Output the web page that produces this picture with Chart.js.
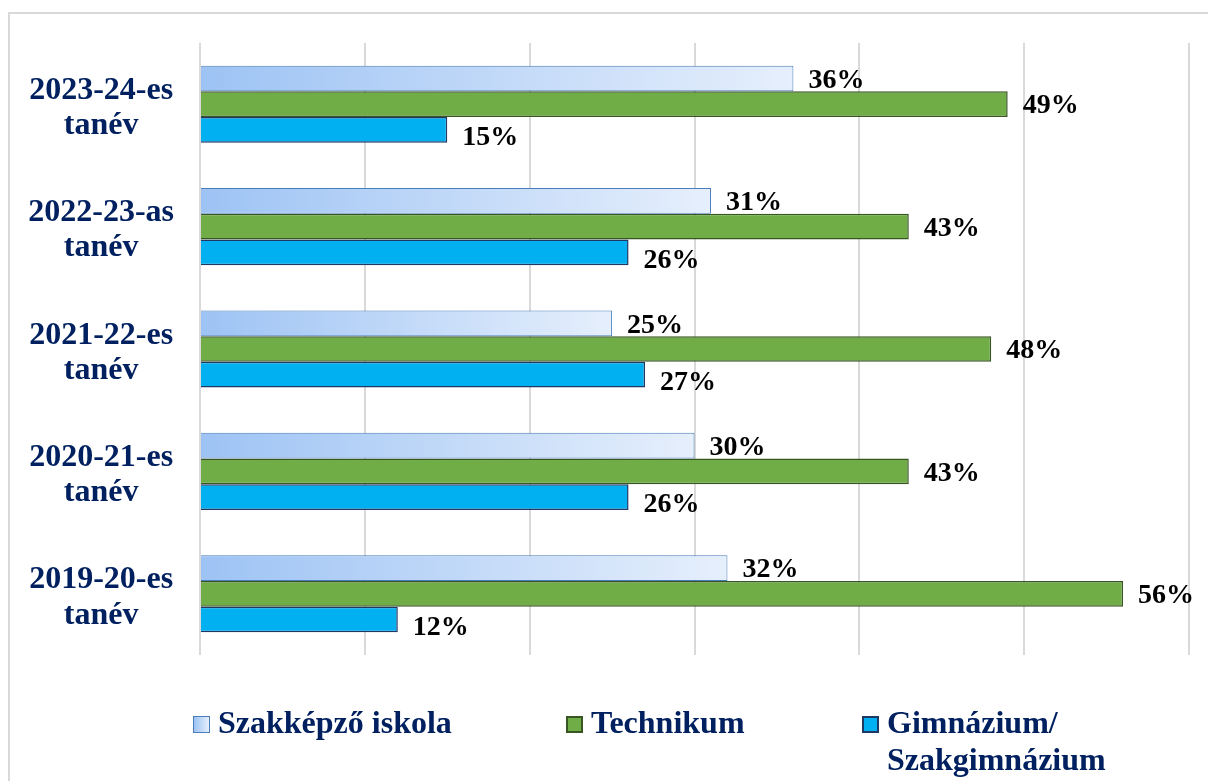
<!DOCTYPE html>
<html lang="hu">
<head>
<meta charset="utf-8">
<script src="https://cdn.jsdelivr.net/npm/chart.js@4.4.1/dist/chart.umd.min.js"></script>
<style>
  html, body { margin: 0; padding: 0; background: #fff; overflow: hidden; }
  #wrap { position: relative; width: 1208px; height: 781px; }
  #frame { position: absolute; left: 8px; top: 12px; width: 1220px; height: 800px; border: 2px solid #d9d9d9; box-sizing: border-box; }
  #chart { position: absolute; left: 0; top: 0; }
  .leg { position: absolute; font: bold 32px "Liberation Serif", "Times New Roman", serif; color: #002060; line-height: 37px; white-space: nowrap; }
  .box { position: absolute; width: 17px; height: 17px; box-sizing: border-box; }
</style>
</head>
<body>
<div id="wrap">
  <div id="frame"></div>
  <canvas id="chart" width="1208" height="781"></canvas>
  <div class="box" style="left:193px;top:716px;border:1.5px solid #4a7ebb;background:linear-gradient(90deg,#9dc3f4,#e6effc);"></div>
  <div class="leg" style="left:218px;top:704px;">Szakképző iskola</div>
  <div class="box" style="left:566px;top:716px;border:2px solid #375623;background:#70ad47;"></div>
  <div class="leg" style="left:591px;top:704px;">Technikum</div>
  <div class="box" style="left:862px;top:716px;border:2px solid #1f3864;background:#00b0f0;"></div>
  <div class="leg" style="left:887px;top:704px;">Gimnázium/<br>Szakgimnázium</div>
</div>
<script>
// Adatok
const categories = [
  ['2023-24-es', 'tanév'],
  ['2022-23-as', 'tanév'],
  ['2021-22-es', 'tanév'],
  ['2020-21-es', 'tanév'],
  ['2019-20-es', 'tanév']
];
const seriesNames = ['Szakképző iskola', 'Technikum', 'Gimnázium/ Szakgimnázium'];
const szakkepzo = [36, 31, 25, 30, 32];
const technikum = [49, 43, 48, 43, 56];
const gimnazium = [15, 26, 27, 26, 12];
const xTicks = [0, 10, 20, 30, 40, 50, 60];

// dégradé pour les barres du Szakképző
function szakGradient(ctx) {
    const chart = ctx.chart;
    if (!chart.chartArea || ctx.type !== 'data') return '#b8d3f7';
    const x = chart.scales.x;
    const x0 = x.getPixelForValue(0);
    const x1 = x.getPixelForValue(ctx.raw);
    const g = chart.ctx.createLinearGradient(x0, 0, Math.max(x1, x0 + 1), 0);
    g.addColorStop(0, '#9dc3f4');
    g.addColorStop(1, '#e6effc');
    return g;
}

// étiquettes de valeur au bout des barres
const valueLabels = {
    id: 'valueLabels',
    afterDatasetsDraw(chart) {
        const ctx = chart.ctx;
        const dy = [2, 2, 8];
        ctx.save();
        ctx.font = 'bold 28px "Liberation Serif", "Times New Roman", serif';
        ctx.fillStyle = '#000';
        ctx.textAlign = 'left';
        ctx.textBaseline = 'middle';
        chart.data.datasets.forEach((ds, i) => {
            chart.getDatasetMeta(i).data.forEach((bar, j) => {
                ctx.fillText(ds.data[j] + '%', bar.x + 15, bar.y + dy[i]);
            });
        });
        ctx.restore();
    }
};

new Chart(document.getElementById('chart').getContext('2d'), {
    type: 'bar',
    data: {
        labels: categories,
        datasets: [{
            label: seriesNames[0],
            data: szakkepzo,
            backgroundColor: szakGradient,
            borderColor: '#4a7ebb',
            borderWidth: 1
        }, {
            label: seriesNames[1],
            data: technikum,
            backgroundColor: '#70ad47',
            borderColor: '#375623',
            borderWidth: 1.5
        }, {
            label: seriesNames[2],
            data: gimnazium,
            backgroundColor: '#00b0f0',
            borderColor: '#1f3864',
            borderWidth: 1.5
        }]
    },
    options: {
        indexAxis: 'y',
        responsive: false,
        animation: false,
        layout: { padding: { top: 43, bottom: 126, right: 19, left: 0 } },
        datasets: { bar: { categoryPercentage: 0.63, barPercentage: 1 } },
        scales: {
            x: {
                min: 0,
                max: 60,
                afterBuildTicks: (scale) => { scale.ticks = xTicks.map(v => ({ value: v })); },
                ticks: { display: false },
                grid: { color: '#d9d9d9', lineWidth: 2, drawTicks: false },
                border: { display: false }
            },
            y: {
                afterFit: (scale) => {
                    scale.width = 200;
                    scale.paddingTop = 0;
                    scale.paddingBottom = 0;
                },
                ticks: {
                    crossAlign: 'center',
                    padding: 26,
                    labelOffset: 4,
                    color: '#002060',
                    font: { family: '"Liberation Serif", "Times New Roman", serif', size: 32, weight: 'bold', lineHeight: 1.1 }
                },
                grid: { display: false, drawTicks: false },
                border: { display: false }
            }
        },
        plugins: {
            legend: { display: false },
            tooltip: { enabled: false }
        }
    },
    plugins: [valueLabels]
});
</script>
</body>
</html>
